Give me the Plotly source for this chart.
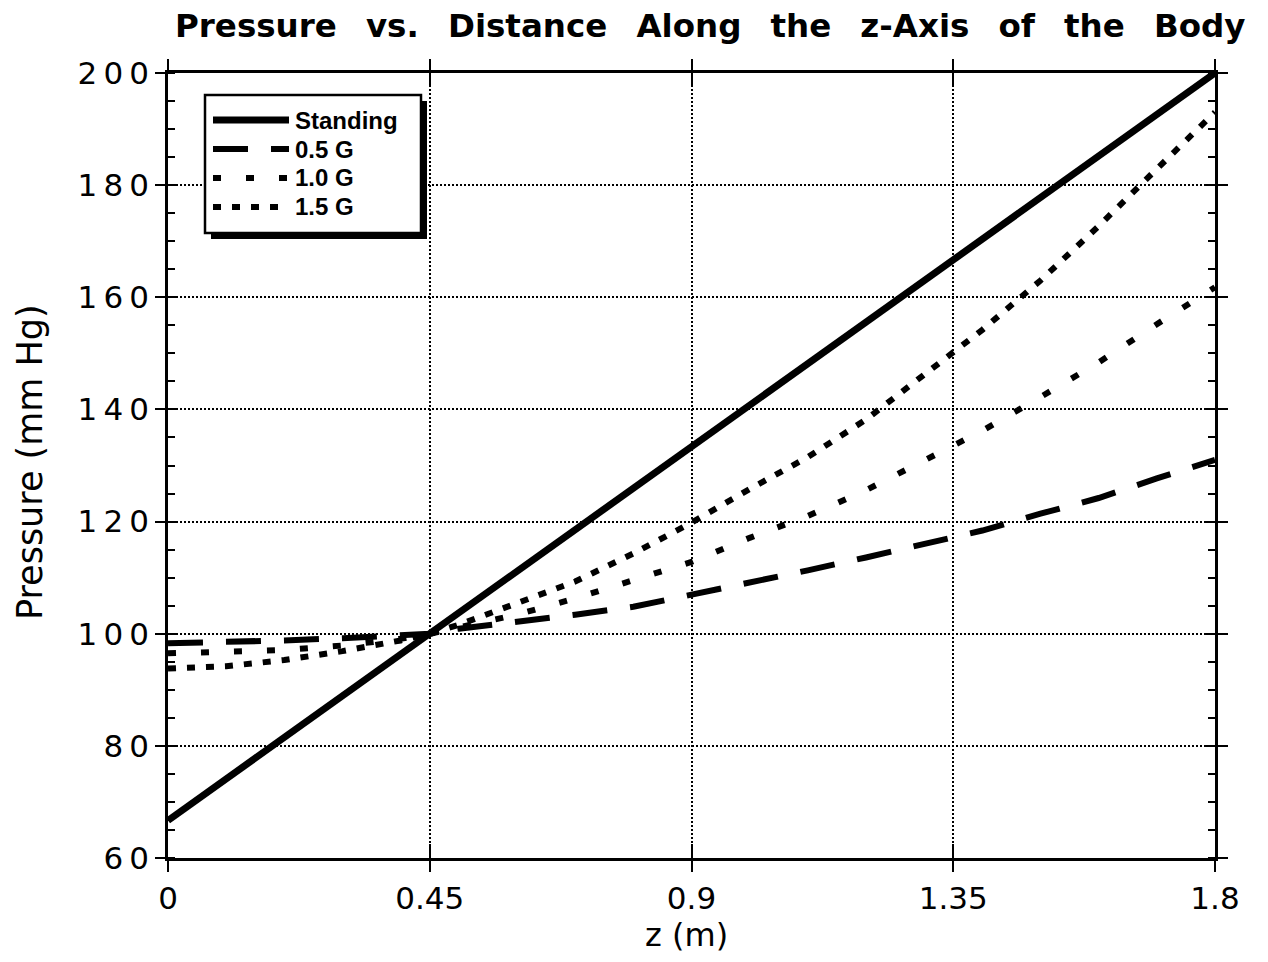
import plotly.graph_objects as go

# ---------------- data ----------------
z = [0.0, 0.1, 0.2, 0.3, 0.4, 0.45, 0.5, 0.6, 0.7, 0.8, 0.9, 1.0,
     1.1, 1.2, 1.3, 1.4, 1.5, 1.6, 1.7, 1.8]
z_standing = [0.0, 0.45, 0.9, 1.35, 1.8]
p_standing = [66.7, 100.0, 133.3, 166.7, 200.0]
p_05g = [98.3, 98.5, 98.8, 99.2, 99.7, 100.0, 100.9, 102.1, 103.4, 104.8,
         106.9, 109.0, 111.3, 113.6, 115.9, 118.4, 121.4, 124.2, 127.7, 131.0]
p_10g = [96.5, 96.7, 97.1, 97.9, 99.1, 100.0, 101.2, 103.4, 106.3, 109.5,
         112.8, 117.1, 121.0, 125.6, 130.8, 136.2, 142.2, 148.4, 155.2, 161.8]
p_15g = [93.8, 94.2, 95.3, 96.9, 98.8, 100.0, 101.6, 105.4, 109.3, 114.3,
         119.8, 125.8, 131.5, 138.2, 146.2, 154.2, 163.0, 172.7, 182.9, 193.0]

series_names = ["Standing", "0.5 G", "1.0 G", "1.5 G"]

x_tickvals = [0, 0.45, 0.9, 1.35, 1.8]
x_ticklabels = ["0", "0.45", "0.9", "1.35", "1.8"]
y_tickvals = [60, 80, 100, 120, 140, 160, 180, 200]
y_ticklabels = ["6\u20090", "8\u20090", "1\u20090\u20090", "1\u20092\u20090",
                "1\u20094\u20090", "1\u20096\u20090", "1\u20098\u20090", "2\u20090\u20090"]

title_words = ["Pressure", "vs.", "Distance", "Along", "the", "z-Axis", "of", "the", "Body"]

# ---------------- styles ----------------
W_FIG, H_FIG = 1268, 962
L, R, T, B = 168, 1215, 73, 858
PW, PH = R - L, B - T


def px2x(p):
    return (p - L) / PW


def py2y(p):
    return (B - p) / PH


styles = [
    dict(width=7, dash="solid"),
    dict(width=6, dash="35px,23px"),
    dict(width=6, dash="8px,25px"),
    dict(width=6, dash="8px,11px"),
]

fig = go.Figure()
series = [(z_standing, p_standing), (z, p_05g), (z, p_10g), (z, p_15g)]
for (xs, ys), name, st in zip(series, series_names, styles):
    fig.add_trace(go.Scatter(x=xs, y=ys, mode="lines", name=name,
                             line=dict(color="black", width=st["width"], dash=st["dash"]),
                             showlegend=False))

# dummy trace for overlay axes carrying inward tick marks
fig.add_trace(go.Scatter(x=[None], y=[None], xaxis="x2", yaxis="y2",
                         showlegend=False, hoverinfo="skip"))

tick_font = dict(family="DejaVu Sans", size=31, color="black")

fig.update_layout(
    width=W_FIG, height=H_FIG, autosize=False,
    margin=dict(l=L, r=W_FIG - R, t=T, b=H_FIG - B, pad=0),
    paper_bgcolor="white", plot_bgcolor="white",
    showlegend=False,
    xaxis=dict(range=[0, 1.8], tickvals=x_tickvals, ticktext=x_ticklabels,
               ticks="outside", ticklen=11, tickwidth=2, tickcolor="black",
               showline=True, linewidth=2.5, linecolor="black", mirror="ticks",
               showgrid=True, gridcolor="black", gridwidth=1.5, griddash="2px,2px",
               zeroline=False, tickfont=tick_font, ticklabelstandoff=0),
    yaxis=dict(range=[60, 200], tickvals=y_tickvals, ticktext=y_ticklabels,
               ticks="outside", ticklen=10, tickwidth=2, tickcolor="black",
               showline=True, linewidth=2.5, linecolor="black", mirror="ticks",
               showgrid=True, gridcolor="black", gridwidth=1.5, griddash="2px,2px",
               zeroline=False, tickfont=tick_font, ticklabelstandoff=0,
               minor=dict(dtick=5, tick0=60, ticks="inside", ticklen=7,
                          tickwidth=2, tickcolor="black", showgrid=False)),
    xaxis2=dict(range=[0, 1.8], overlaying="x", anchor="y2", tickvals=x_tickvals,
                ticks="inside", ticklen=14, tickwidth=2, tickcolor="black",
                showticklabels=False, showgrid=False, zeroline=False,
                showline=False, mirror="ticks"),
    yaxis2=dict(range=[60, 200], overlaying="y", anchor="x2", tickvals=y_tickvals,
                ticks="inside", ticklen=9, tickwidth=2, tickcolor="black",
                showticklabels=False, showgrid=False, zeroline=False,
                showline=False, mirror="ticks"),
)

# title, kept just inside the right edge
sep = "\u00a0\u00a0\u2009"
fig.add_annotation(text="<b>" + sep.join(title_words) + "</b>",
                   xref="paper", yref="paper", x=px2x(173), y=py2y(26),
                   xanchor="left", yanchor="middle", showarrow=False,
                   font=dict(family="DejaVu Sans", size=32.5, color="black"))

# axis titles
fig.add_annotation(text="z (m)", xref="paper", yref="paper",
                   x=px2x(686), y=py2y(935), xanchor="center", yanchor="middle",
                   showarrow=False, font=dict(family="DejaVu Sans", size=32, color="black"))
fig.add_annotation(text="Pressure (mm Hg)", xref="paper", yref="paper",
                   x=px2x(30), y=py2y(462), xanchor="center", yanchor="middle",
                   textangle=-90, showarrow=False,
                   font=dict(family="DejaVu Sans", size=35, color="black"))

# custom legend box with drop shadow
bx0, bx1, by0, by1 = 205, 421, 95, 233
fig.add_shape(type="rect", xref="paper", yref="paper",
              x0=px2x(bx0 + 6), x1=px2x(bx1 + 6), y0=py2y(by0 + 6), y1=py2y(by1 + 6),
              line=dict(width=0), fillcolor="black", layer="above")
fig.add_shape(type="rect", xref="paper", yref="paper",
              x0=px2x(bx0), x1=px2x(bx1), y0=py2y(by0), y1=py2y(by1),
              line=dict(width=2.5, color="black"), fillcolor="white", layer="above")
row_y = [120, 149, 178, 207]
for name, st, ry in zip(series_names, styles, row_y):
    fig.add_shape(type="line", xref="paper", yref="paper",
                  x0=px2x(213), x1=px2x(289), y0=py2y(ry), y1=py2y(ry),
                  line=dict(color="black", width=st["width"], dash=st["dash"]),
                  layer="above")
    fig.add_annotation(text="<b>" + name + "</b>", xref="paper", yref="paper",
                       x=px2x(293), y=py2y(ry), xanchor="left", yanchor="middle",
                       showarrow=False,
                       font=dict(family="Liberation Sans", size=24, color="black"))

fig.write_html("out.html")
